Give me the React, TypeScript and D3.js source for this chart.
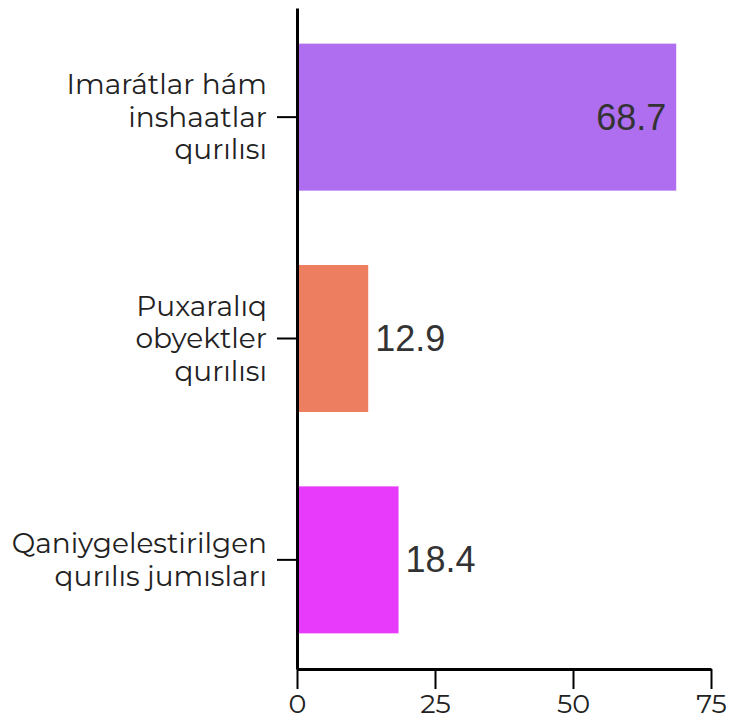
import React, { useEffect, useRef } from "react";
import * as d3 from "d3";

const categories = [
  "Imarátlar hám inshaatlar qurılısı",
  "Puxaralıq obyektler qurılısı",
  "Qaniygelestirilgen qurılıs jumısları",
];
const categoryLines = [
  ["Imarátlar hám", "inshaatlar", "qurılısı"],
  ["Puxaralıq", "obyektler", "qurılısı"],
  ["Qaniygelestirilgen", "qurılıs jumısları"],
];
const values = [68.7, 12.9, 18.4];
const colors = ["#AF6DEF", "#ED7E60", "#E83AFA"];
const xTicks = [0, 25, 50, 75];

const W = 730;
const H = 720;
const LABEL_FONT = "Montserrat, 'Open Sans', sans-serif";

export default function App() {
  const ref = useRef<SVGSVGElement>(null);
  useEffect(() => {
    const svg = d3.select(ref.current);
    svg.selectAll("*").remove();
    const left = 297;
    const right = 711;
    const top = 8;
    const bottom = 669;

    const x = d3.scaleLinear().domain([0, 75]).range([left, right]);
    const y = d3
      .scaleBand<string>()
      .domain(categories)
      .range([top, bottom])
      .paddingInner(0.336)
      .paddingOuter(0.161);

    const g = svg.append("g");

    g.selectAll("rect.bar")
      .data(values)
      .enter()
      .append("rect")
      .attr("class", "bar")
      .attr("x", x(0))
      .attr("y", (_, i) => y(categories[i])!)
      .attr("width", (d) => x(d) - x(0))
      .attr("height", y.bandwidth())
      .attr("fill", (_, i) => colors[i]);

    const inside = (d: number) => x(d) - x(0) > 200;
    g.selectAll("text.val")
      .data(values)
      .enter()
      .append("text")
      .attr("class", "val")
      .attr("x", (d) => (inside(d) ? x(d) - 10 : x(d) + 7))
      .attr("y", (_, i) => y(categories[i])! + y.bandwidth() / 2)
      .attr("dy", "0.35em")
      .attr("text-anchor", (d) => (inside(d) ? "end" : "start"))
      .attr("font-family", "Arial, 'Liberation Sans', sans-serif")
      .attr("font-size", 36)
      .attr("fill", "#333")
      .text((d) => d.toString());

    const xAxis = g
      .append("g")
      .attr("transform", `translate(0,${bottom})`)
      .call(
        d3
          .axisBottom(x)
          .tickValues(xTicks)
          .tickSize(20)
          .tickSizeOuter(0)
          .tickPadding(5)
      );
    xAxis.select(".domain").attr("stroke", "#000").attr("stroke-width", 3);
    xAxis.selectAll(".tick line").attr("stroke", "#000").attr("stroke-width", 2);
    xAxis
      .selectAll(".tick text")
      .attr("font-family", LABEL_FONT)
      .attr("font-size", 27)
      .attr("fill", "#222");

    const yAxis = g
      .append("g")
      .attr("transform", `translate(${left},0)`)
      .call(d3.axisLeft(y).tickSize(20).tickSizeOuter(0).tickPadding(10));
    yAxis.select(".domain").attr("stroke", "#000").attr("stroke-width", 3);
    yAxis.selectAll(".tick line").attr("stroke", "#000").attr("stroke-width", 2);
    yAxis.selectAll(".tick text").each(function (_, i) {
      const t = d3.select(this);
      const lines = categoryLines[i];
      t.text(null)
        .attr("font-family", LABEL_FONT)
        .attr("font-size", 28)
        .attr("fill", "#222")
        .attr("dy", null);
      const lh = 32.5;
      const start = -((lines.length - 1) * lh) / 2;
      lines.forEach((ln, k) => {
        t.append("tspan")
          .attr("x", -30)
          .attr("y", start + k * lh)
          .attr("dy", "0.35em")
          .text(ln);
      });
    });
  }, []);

  return (
    <svg
      ref={ref}
      width={W}
      height={H}
      style={{ position: "absolute", left: 0, top: 0, background: "#fff" }}
    />
  );
}
